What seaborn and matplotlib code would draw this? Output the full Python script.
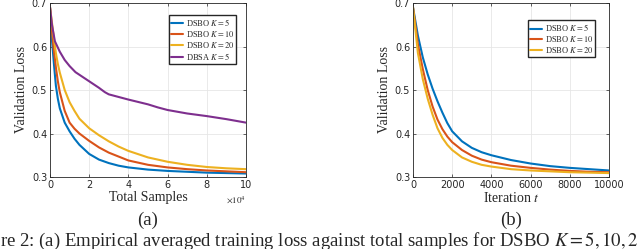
import matplotlib
matplotlib.use("Agg")
import matplotlib.pyplot as plt
import numpy as np
import pandas as pd
import seaborn as sns

# (a) validation loss vs total samples (x in units of 1e4)
samples_x = [0, 0.1, 0.2, 0.3, 0.4, 0.5, 0.75, 1, 1.25, 1.5, 2, 2.5, 3, 3.5, 4, 5, 6, 7, 8, 9, 10]
dsbo_k5_a = [0.69, 0.615, 0.56, 0.51, 0.48, 0.458, 0.425, 0.405, 0.388, 0.374, 0.353, 0.340, 0.332,
             0.326, 0.322, 0.317, 0.314, 0.312, 0.310, 0.309, 0.308]
dsbo_k10_a = [0.69, 0.635, 0.59, 0.552, 0.52, 0.495, 0.452, 0.425, 0.411, 0.400, 0.383, 0.368, 0.356,
              0.347, 0.338, 0.328, 0.322, 0.318, 0.315, 0.313, 0.311]
dsbo_k20_a = [0.69, 0.655, 0.618, 0.585, 0.56, 0.54, 0.50, 0.472, 0.452, 0.434, 0.412, 0.396, 0.382,
              0.37, 0.36, 0.345, 0.335, 0.328, 0.323, 0.320, 0.318]
dbsa_x = [0, 0.1, 0.25, 0.5, 0.75, 1, 1.3, 1.6, 2, 2.5, 2.8, 3, 4, 5, 5.5, 6, 7, 8, 9, 10]
dbsa_k5_a = [0.69, 0.65, 0.612, 0.588, 0.569, 0.555, 0.541, 0.532, 0.52, 0.505, 0.495, 0.49, 0.478,
             0.467, 0.46, 0.454, 0.446, 0.44, 0.433, 0.425]

# (b) validation loss vs iteration t
iter_x = [0, 250, 500, 750, 1000, 1250, 1500, 1750, 2000, 2500, 3000, 3500, 4000, 5000, 6000,
          7000, 8000, 9000, 10000]
dsbo_k5_b = [0.69, 0.625, 0.575, 0.536, 0.503, 0.474, 0.448, 0.424, 0.405, 0.382, 0.367, 0.357,
             0.350, 0.339, 0.331, 0.325, 0.321, 0.318, 0.315]
dsbo_k10_b = [0.69, 0.605, 0.548, 0.500, 0.462, 0.432, 0.410, 0.393, 0.380, 0.362, 0.349, 0.340,
              0.334, 0.326, 0.321, 0.317, 0.314, 0.312, 0.311]
dsbo_k20_b = [0.69, 0.585, 0.525, 0.480, 0.443, 0.412, 0.390, 0.374, 0.362, 0.345, 0.335, 0.328,
              0.324, 0.318, 0.315, 0.313, 0.311, 0.310, 0.309]

labels = [r"DSBO $K=5$", r"DSBO $K=10$", r"DSBO $K=20$", r"DBSA $K=5$"]
colors = ["#0072BD", "#D95319", "#EDB120", "#7E2F8E"]

sns.set_theme(style="whitegrid")
plt.rcParams["mathtext.fontset"] = "stix"
plt.rcParams["font.family"] = ["DejaVu Sans"]
serif = ["Liberation Serif", "DejaVu Serif"]

df_a = pd.concat([
    pd.DataFrame({"x": samples_x, "y": dsbo_k5_a, "method": labels[0]}),
    pd.DataFrame({"x": samples_x, "y": dsbo_k10_a, "method": labels[1]}),
    pd.DataFrame({"x": samples_x, "y": dsbo_k20_a, "method": labels[2]}),
    pd.DataFrame({"x": dbsa_x, "y": dbsa_k5_a, "method": labels[3]}),
])
df_b = pd.concat([
    pd.DataFrame({"x": iter_x, "y": dsbo_k5_b, "method": labels[0]}),
    pd.DataFrame({"x": iter_x, "y": dsbo_k10_b, "method": labels[1]}),
    pd.DataFrame({"x": iter_x, "y": dsbo_k20_b, "method": labels[2]}),
])

fig = plt.figure(figsize=(6.4, 2.49), dpi=100)
ax1 = fig.add_axes([50 / 640, 1 - 177 / 249, 196 / 640, 174 / 249])
ax2 = fig.add_axes([413 / 640, 1 - 177 / 249, 196 / 640, 174 / 249])


def style_axes(ax):
    ax.set_facecolor("white")
    ax.grid(True, color="#e6e6e6", lw=0.6)
    for s in ax.spines.values():
        s.set_visible(True)
        s.set_color("#262626")
        s.set_linewidth(0.6)
    ax.tick_params(direction="in", length=2.5, width=0.5, labelsize=7,
                   top=True, right=True, bottom=True, left=True, pad=2,
                   colors="#262626")
    ax.set_ylim(0.3, 0.7)
    ax.set_yticks([0.3, 0.4, 0.5, 0.6, 0.7])
    ax.set_ylabel("Validation Loss", fontsize=10, family=serif, labelpad=3)


def add_legend(ax, anchor):
    ax.legend(loc="upper right", bbox_to_anchor=anchor,
              prop={"family": serif, "size": 6}, frameon=True, fancybox=False,
              edgecolor="#262626", framealpha=1, handlelength=1.5,
              handletextpad=0.3, borderpad=0.25, labelspacing=0.1,
              borderaxespad=0)


sns.lineplot(data=df_a, x="x", y="y", hue="method", palette=colors, lw=1.5, ax=ax1)
style_axes(ax1)
ax1.set_xlim(0, 10)
ax1.set_xticks([0, 2, 4, 6, 8, 10])
ax1.set_xlabel("Total Samples", fontsize=10, family=serif, labelpad=1)
ax1.text(1.0, -0.1, r"$\times 10^4$", transform=ax1.transAxes, ha="right",
         va="top", fontsize=6.5, color="#262626")
add_legend(ax1, (0.95, 0.93))

sns.lineplot(data=df_b, x="x", y="y", hue="method", palette=colors[:3], lw=1.5, ax=ax2)
style_axes(ax2)
ax2.set_xlim(0, 10000)
ax2.set_xticks([0, 2000, 4000, 6000, 8000, 10000])
ax2.set_xlabel(r"Iteration $t$", fontsize=10, family=serif, labelpad=1)
add_legend(ax2, (0.93, 0.9))

fig.text(148 / 640, 1 - 220 / 249, "(a)", ha="center", va="center", fontsize=13.5, family=serif)
fig.text(511 / 640, 1 - 220 / 249, "(b)", ha="center", va="center", fontsize=13.5, family=serif)
fig.text(0.0, 3 / 249, r"re 2: (a) Empirical averaged training loss against total samples for DSBO $K=5, 10, 2$",
         ha="left", va="baseline", fontsize=13.5, family=serif)

fig.savefig("out.png", dpi=100)
